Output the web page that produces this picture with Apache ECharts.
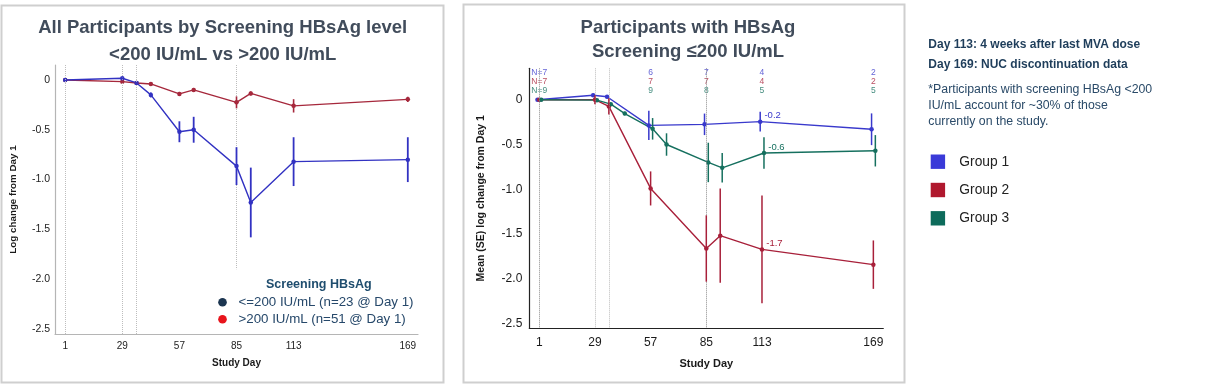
<!DOCTYPE html>
<html><head><meta charset="utf-8">
<script src="https://cdn.jsdelivr.net/npm/echarts@6/dist/echarts.min.js"></script>
<style>html,body{margin:0;padding:0;background:#fff}#c{width:1219px;height:384px}</style>
</head><body><div id="c"></div>
<script>
// ---------- DATA ----------
const xTickDays = [1, 29, 57, 85, 113, 169];
const yTickVals = [-2.5, -2.0, -1.5, -1.0, -0.5, 0];
const refDays = [1, 29, 36, 85];

// Left panel: all participants by screening HBsAg
const leftDays = [1, 29, 36, 43, 57, 64, 85, 92, 113, 169];
const lowMean  = [0, 0.017, -0.03, -0.15, -0.52, -0.50, -0.865, -1.23, -0.82, -0.80];
const lowSE    = [0, 0.01, 0.01, 0.025, 0.105, 0.13, 0.19, 0.35, 0.245, 0.225];
const highMean = [0, -0.017, -0.03, -0.04, -0.14, -0.10, -0.225, -0.135, -0.26, -0.195];
const highSE   = [0, 0.008, 0.008, 0.01, 0.02, 0.02, 0.06, 0.02, 0.067, 0.027];
const leftLegendTitle = 'Screening HBsAg';
const leftLegendNames = ['<=200 IU/mL (n=23 @ Day 1)', '>200 IU/mL (n=51 @ Day 1)'];

// Right panel: participants with screening HBsAg <=200
const g1Days = [1, 29, 36, 57, 85, 113, 169];
const g1Mean = [0, 0.05, 0.033, -0.287, -0.275, -0.245, -0.33];
const g1SE   = [0, 0.02, 0.02, 0.163, 0.12, 0.11, 0.177];
const g2Days = [1, 29, 36, 57, 85, 92, 113, 169];
const g2Mean = [0, 0, -0.075, -0.99, -1.66, -1.517, -1.67, -1.84];
const g2SE   = [0, 0.05, 0.09, 0.19, 0.37, 0.525, 0.6, 0.27];
const g3Days = [1, 29, 36, 43, 57, 64, 85, 92, 113, 169];
const g3Mean = [0, -0.005, -0.05, -0.155, -0.325, -0.50, -0.70, -0.76, -0.595, -0.57];
const g3SE   = [0, 0.01, 0.015, 0.02, 0.12, 0.125, 0.22, 0.165, 0.175, 0.175];
const labelDay = 113;
const nDays = [1, 57, 85, 113, 169];
const nG1 = ['N=7', '6', '7', '4', '2'];
const nG2 = ['N=7', '7', '7', '4', '2'];
const nG3 = ['N=9', '9', '8', '5', '5'];
const groupNames = ['Group 1', 'Group 2', 'Group 3'];

const noteBold = ['Day 113: 4 weeks after last MVA dose', 'Day 169: NUC discontinuation data'];
const noteText = ['*Participants with screening HBsAg <200', 'IU/mL account for ~30% of those', 'currently on the study.'];
const leftTitle = ['All Participants by Screening HBsAg level', '<200 IU/mL vs >200 IU/mL'];
const rightTitle = ['Participants with HBsAg', 'Screening \u2264200 IU/mL'];

// ---------- STYLE ----------
const FONT = 'Liberation Sans, Arial, sans-serif';
const cLowLine = '#3232c2', cHighLine = '#a6283c';
const cG = ['#3939cc', '#a8203a', '#16705f'];
const cSq = ['#3a3ad8', '#b0182e', '#0d6b5b'];
const titleColor = '#414c5b';

function lineSeries(idx, days, means, color, dodge, extra) {
  return Object.assign({
    type: 'line', xAxisIndex: idx, yAxisIndex: idx,
    data: days.map((d, i) => [d + dodge, means[i]]),
    symbol: 'circle', symbolSize: 4.5, showSymbol: true,
    itemStyle: { color: color }, lineStyle: { color: color, width: 1.4 },
    z: 4, silent: true, animation: false
  }, extra || {});
}
function errSeries(idx, days, means, ses, color, dodge, w) {
  return {
    type: 'custom', xAxisIndex: idx, yAxisIndex: idx, silent: true, animation: false, z: 5,
    data: days.map((d, i) => [d + dodge, means[i] - ses[i], means[i] + ses[i]]),
    encode: { x: 0, y: [1, 2] },
    renderItem: function (params, api) {
      const x = api.value(0);
      const a = api.coord([x, api.value(1)]);
      const b = api.coord([x, api.value(2)]);
      return { type: 'line', shape: { x1: a[0], y1: a[1], x2: b[0], y2: b[1] },
               style: { stroke: color, lineWidth: w } };
    }
  };
}
function refSeries(idx, yTop, yBottom, darkDays, leftPanel) {
  return {
    type: 'line', xAxisIndex: idx, yAxisIndex: idx, data: [], z: 1, silent: true, animation: false,
    markLine: {
      silent: true, symbol: 'none', label: { show: false }, animation: false,
      lineStyle: { type: 'dotted', color: '#bdbdbd', width: 1 },
      data: refDays.map(d => {
        const dark = darkDays.indexOf(d) >= 0;
        const bottom = (leftPanel && d === 85) ? -1.9 : yBottom;
        return [{ coord: [d, yTop], lineStyle: { color: dark ? '#8a8a8a' : '#bdbdbd' } }, { coord: [d, bottom] }];
      })
    }
  };
}
function xAxisCfg(idx, fs, axisColor, labelColor, nameFs, nameGap, margin) {
  return {
    gridIndex: idx, type: 'value', min: -4, max: 174,
    name: 'Study Day', nameLocation: 'middle', nameGap: nameGap,
    nameTextStyle: { fontFamily: FONT, fontWeight: 'bold', fontSize: nameFs, color: '#1a1a1a' },
    axisLine: { show: true, onZero: false, lineStyle: { color: axisColor, width: 1.2 } },
    axisTick: { show: false }, splitLine: { show: false },
    axisLabel: { customValues: xTickDays, fontFamily: FONT, fontSize: fs, color: labelColor, margin: margin }
  };
}
function yAxisCfg(idx, max, name, fs, axisColor, labelColor, nameFs, nameGap, margin) {
  return {
    gridIndex: idx, type: 'value', min: -2.55, max: max,
    name: name, nameLocation: 'middle', nameGap: nameGap, nameRotate: 90,
    nameTextStyle: { fontFamily: FONT, fontWeight: 'bold', fontSize: nameFs, color: '#1a1a1a' },
    axisLine: { show: true, onZero: false, lineStyle: { color: axisColor, width: 1.2 } },
    axisTick: { show: false }, splitLine: { show: false },
    axisLabel: { customValues: yTickVals, fontFamily: FONT, fontSize: fs, color: labelColor, margin: margin,
      formatter: v => (Math.abs(v) < 1e-9 ? '0' : v.toFixed(1)) }
  };
}

const dodge = [-0.9, 0, 1];
const series = [];
// left panel
series.push(refSeries(0, 0.15, -2.55, [], true));
series.push(lineSeries(0, leftDays, highMean, cHighLine, 0));
series.push(lineSeries(0, leftDays, lowMean, cLowLine, 0));
series.push(errSeries(0, leftDays, highMean, highSE, cHighLine, 0, 1.6));
series.push(errSeries(0, leftDays, lowMean, lowSE, cLowLine, 0, 1.8));

// right panel
series.push(refSeries(1, 0.35, -2.55, [1, 85], false));
const gDays = [g1Days, g2Days, g3Days], gMean = [g1Mean, g2Mean, g3Mean], gSE = [g1SE, g2SE, g3SE];
for (let g = 0; g < 3; g++) {
  const data = gDays[g].map((d, i) => {
    const item = { value: [d + dodge[g], gMean[g][i]] };
    if (d === labelDay) item.label = {
      show: true, position: 'right', distance: 2, offset: [0, -6],
      formatter: p => p.value[1].toFixed(1), fontFamily: FONT, fontSize: 9.5, color: cG[g]
    };
    return item;
  });
  const s = lineSeries(1, gDays[g], gMean[g], cG[g], dodge[g]);
  s.data = data;
  series.push(s);
  series.push(errSeries(1, gDays[g], gMean[g], gSE[g], cG[g], dodge[g], 1.5));
}
// N counts row
const nRows = [nG1, nG2, nG3];
const nRowY = [0.30, 0.20, 0.10];
for (let g = 0; g < 3; g++) {
  series.push({
    type: 'scatter', xAxisIndex: 1, yAxisIndex: 1, symbolSize: 0, silent: true, animation: false,
    data: nDays.map((d, i) => ({ value: [d, nRowY[g]], name: nRows[g][i] })),
    label: { show: true, position: 'inside', formatter: p => p.name, fontFamily: FONT, fontSize: 8.5, color: cG[g] }
  });
}

// ---------- GRAPHICS ----------
const graphic = [];
graphic.push({ type: 'rect', shape: { x: 1.5, y: 5.5, width: 442, height: 377 }, style: { fill: 'none', stroke: '#cfcfcf', lineWidth: 2 }, z: -10, silent: true });
graphic.push({ type: 'rect', shape: { x: 463.5, y: 4.5, width: 441, height: 378 }, style: { fill: 'none', stroke: '#cfcfcf', lineWidth: 2 }, z: -10, silent: true });
const tFont = 'bold 18.5px ' + FONT;
graphic.push({ type: 'text', x: 222.7, y: 28, style: { text: leftTitle[0], font: tFont, fill: titleColor, textAlign: 'center', textVerticalAlign: 'middle' }, silent: true });
graphic.push({ type: 'text', x: 222.7, y: 55, style: { text: leftTitle[1], font: tFont, fill: titleColor, textAlign: 'center', textVerticalAlign: 'middle' }, silent: true });
graphic.push({ type: 'text', x: 688, y: 28.3, style: { text: rightTitle[0], font: tFont, fill: titleColor, textAlign: 'center', textVerticalAlign: 'middle' }, silent: true });
graphic.push({ type: 'text', x: 688, y: 51.7, style: { text: rightTitle[1], font: tFont, fill: titleColor, textAlign: 'center', textVerticalAlign: 'middle' }, silent: true });
// left legend
graphic.push({ type: 'text', x: 318.8, y: 285, z: 51, style: { text: leftLegendTitle, font: 'bold 12.5px ' + FONT, fill: '#1f4d6e', textAlign: 'center', textVerticalAlign: 'middle' }, silent: true });
const legC = ['#1b3550', '#e8141c'];
for (let i = 0; i < 2; i++) {
  const y = 302.3 + i * 17;
  graphic.push({ type: 'circle', z: 51, shape: { cx: 222.5, cy: y, r: 4.3 }, style: { fill: legC[i] }, silent: true });
  graphic.push({ type: 'text', z: 51, x: 238.5, y: y, style: { text: leftLegendNames[i], font: '13.3px ' + FONT, fill: '#26486a', textAlign: 'left', textVerticalAlign: 'middle' }, silent: true });
}
// right notes
noteBold.forEach((t, i) => graphic.push({ type: 'text', x: 928.3, y: 45 + i * 19.3, style: { text: t, font: 'bold 12px ' + FONT, fill: '#1e3d5a', textAlign: 'left', textVerticalAlign: 'middle' }, silent: true }));
noteText.forEach((t, i) => graphic.push({ type: 'text', x: 928.3, y: 90 + i * 15.9, style: { text: t, font: '12.3px ' + FONT, fill: '#2a4a68', textAlign: 'left', textVerticalAlign: 'middle' }, silent: true }));
groupNames.forEach((t, i) => {
  const y = 161.7 + i * 28.3;
  graphic.push({ type: 'rect', shape: { x: 930.7, y: y - 7.2, width: 14.4, height: 14.4 }, style: { fill: cSq[i] }, silent: true });
  graphic.push({ type: 'text', x: 959.3, y: y, style: { text: t, font: '13.8px ' + FONT, fill: '#222222', textAlign: 'left', textVerticalAlign: 'middle' }, silent: true });
});

const chart = echarts.init(document.getElementById('c'), null, { renderer: 'canvas' });
chart.setOption({
  animation: false,
  backgroundColor: '#ffffff',
  grid: [
    { left: 55, top: 65, width: 363, height: 269 },
    { left: 529.3, top: 68.3, width: 354, height: 260 }
  ],
  xAxis: [
    xAxisCfg(0, 10, '#b5b5b5', '#222', 10, 24, 7),
    xAxisCfg(1, 12, '#222', '#1a1a1a', 11, 30, 8)
  ],
  yAxis: [
    yAxisCfg(0, 0.15, 'Log change from Day 1', 10.5, '#b5b5b5', '#222', 9.8, 37, 5),
    yAxisCfg(1, 0.35, 'Mean (SE) log change from Day 1', 12, '#222', '#1a1a1a', 10.5, 43, 7)
  ],
  series: series,
  graphic: graphic
});
</script></body></html>
